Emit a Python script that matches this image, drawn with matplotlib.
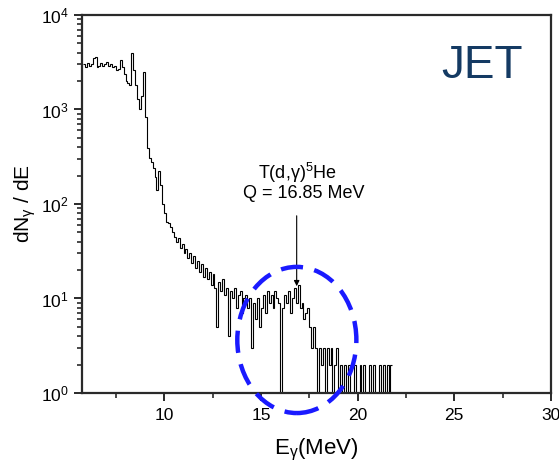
import numpy as np
import matplotlib
matplotlib.use("Agg")
import matplotlib.pyplot as plt
from matplotlib.patches import Ellipse
from matplotlib.ticker import FixedLocator, LogLocator, NullFormatter, FuncFormatter

plt.rcParams["font.family"] = ["Liberation Sans", "DejaVu Sans"]
plt.rcParams["mathtext.fontset"] = "custom"
plt.rcParams["mathtext.rm"] = "Liberation Sans"
plt.rcParams["mathtext.it"] = "Liberation Sans"

# Gamma-ray spectrum, 0.1 MeV bins starting at 5.8 MeV
bin_start = 5.8
bin_width = 0.1
counts = [
    3000, 2800, 3100, 2900, 3000, 3500, 3600, 2800, 2900, 3100,   # 5.8 - 6.7
    2900, 3000, 3200, 2900, 3000, 2800, 2900, 2600, 2700, 3300,   # 6.8 - 7.7
    2800, 2400, 2000, 1900, 1800, 4000, 2600, 1800, 1300, 1000,   # 7.8 - 8.7
    1400, 2500, 830, 390, 310, 280, 240, 193, 140, 223,           # 8.8 - 9.7
    160, 100, 80, 65, 63, 57, 50, 45, 40, 44,                     # 9.8 - 10.7
    34, 38, 30, 33, 27, 30, 24, 28, 21, 25,                       # 10.8 - 11.7
    19, 23, 17, 21, 16, 19, 14, 18, 13, 5,                        # 11.8 - 12.7
    15, 12, 16, 11, 13, 4, 12, 10, 13, 8,                         # 12.8 - 13.7
    11, 12, 7, 10, 11, 8, 10, 3, 9, 6,                            # 13.8 - 14.7
    10, 5, 8, 11, 7, 12, 9, 11, 8, 12,                            # 14.8 - 15.7
    10, 9, 1, 8, 11, 9, 12, 7, 10, 13,                            # 15.8 - 16.7
    9, 14, 8, 9, 6, 7, 8, 5, 3, 5,                                # 16.8 - 17.7
    3, 1, 3, 2, 3, 1, 3, 2, 3, 1,                                 # 17.8 - 18.7
    2, 3, 1, 2, 1, 2, 1, 2, 1, 1,                                 # 18.8 - 19.7
    2, 1, 1, 2, 1, 2, 1, 1, 2, 1,                                 # 19.8 - 20.7
    2, 1, 1, 2, 1, 2, 1, 2, 1, 2,                                 # 20.8 - 21.7
]

x_limits = (5.75, 30)
y_limits = (1, 1e4)
x_major = [10, 15, 20, 25, 30]
x_minor = [7.5, 12.5, 17.5, 22.5, 27.5]
q_value = 16.85

fig = plt.figure(figsize=(5.59, 4.67), dpi=100)
ax = fig.add_axes([0.1467, 0.1585, 0.839, 0.8094])

edges = bin_start + bin_width * np.arange(len(counts) + 1)
ax.stairs(counts, edges, baseline=None, color="black", linewidth=0.8)

ax.set_yscale("log")
ax.set_xlim(*x_limits)
ax.set_ylim(*y_limits)

ax.xaxis.set_major_locator(FixedLocator(x_major))
ax.xaxis.set_minor_locator(FixedLocator(x_minor))
ax.yaxis.set_major_locator(LogLocator(base=10, numticks=10))
ax.yaxis.set_minor_locator(LogLocator(base=10, subs=np.arange(2, 10), numticks=20))
ax.yaxis.set_minor_formatter(NullFormatter())
ax.yaxis.set_major_formatter(
    FuncFormatter(lambda v, p: r"$\mathregular{10^{%d}}$" % int(round(np.log10(v))))
)

for s in ax.spines.values():
    s.set_linewidth(1.6)
    s.set_color("#2a2a2a")
ax.tick_params(which="major", direction="out", length=6, width=1.4,
               color="#2a2a2a", labelsize=12.5, top=False, right=False)
ax.tick_params(which="minor", direction="out", length=3.5, width=1.2,
               color="#2a2a2a", top=False, right=False)
ax.tick_params(axis="x", pad=5)

ax.set_xlabel(r"E$_{\gamma}$(MeV)", fontsize=16, labelpad=10)
ax.set_ylabel(r"dN$_{\gamma}$ / dE", fontsize=15, labelpad=2)

# Reaction marker
ax.annotate("", xy=(q_value, 13.5), xytext=(q_value, 75),
            arrowprops=dict(arrowstyle="-|>", color="black", lw=0.8,
                            mutation_scale=8, shrinkA=0, shrinkB=0))
ax.text(16.9, 215, r"T(d,$\gamma$)$^{5}$He", fontsize=13, ha="center", va="center")
ax.text(17.2, 128, "Q = 16.85 MeV", fontsize=13, ha="center", va="center")

ax.text(0.853, 0.865, "JET", transform=ax.transAxes, fontsize=33,
        color="#143a63", ha="center", va="center")

# Highlighted region around the peak
ell = Ellipse((0.531, 0.272), 0.213, 0.313, transform=fig.transFigure,
              fill=False, edgecolor="#1a1aff", linewidth=3.2,
              linestyle=(0, (5, 2.6)), clip_on=False)
fig.add_artist(ell)

fig.savefig("out.png", dpi=100)
